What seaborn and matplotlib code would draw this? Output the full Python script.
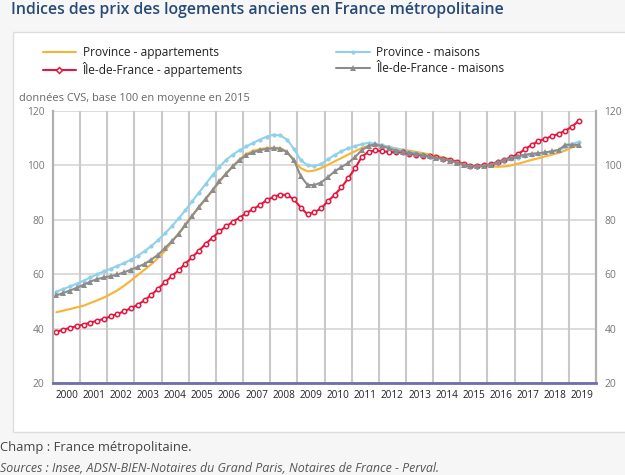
import numpy as np
import pandas as pd
import seaborn as sns
import matplotlib.pyplot as plt
from matplotlib.patches import Rectangle
from matplotlib.lines import Line2D

# Quarterly indices, 2000Q1 -> 2019Q2 (CVS, base 100 = 2015)
province_appart = [46.0, 46.6, 47.2, 47.8, 48.4, 49.4, 50.4, 51.4, 52.7, 54.1, 55.8, 57.7,
                   59.7, 61.7, 63.7, 66.0, 68.6, 71.8, 75.0, 78.3, 81.4, 84.5, 87.6, 90.7,
                   93.8, 97.0, 99.8, 102.3, 104.2, 105.4, 106.0, 106.4, 106.5, 106.4, 105.0, 101.5,
                   99.0, 97.8, 98.1, 99.0, 100.2, 101.5, 102.7, 104.0, 105.2, 106.4, 107.2, 107.6,
                   107.3, 106.9, 106.2, 105.8, 105.4, 105.0, 104.5, 104.0, 103.5, 102.9, 102.3, 101.5,
                   100.7, 100.0, 99.7, 99.6, 99.6, 99.5, 99.6, 100.0, 100.6, 101.3, 102.0, 102.6,
                   103.3, 103.9, 104.6, 105.5, 106.7, 107.3]
province_maisons = [53.6, 54.5, 55.5, 56.5, 57.6, 58.8, 60.0, 61.0, 62.0, 63.1, 64.1, 65.4,
                    66.8, 68.5, 70.4, 72.6, 75.0, 77.6, 80.5, 83.5, 86.8, 90.0, 93.2, 96.4,
                    99.4, 102.0, 104.0, 105.6, 107.0, 108.3, 109.5, 110.6, 111.3, 111.0, 109.5, 106.0,
                    102.0, 100.0, 99.8, 100.5, 102.3, 103.8, 105.2, 106.3, 107.1, 107.8, 108.3, 108.0,
                    107.4, 106.8, 106.0, 105.5, 105.0, 104.5, 104.0, 103.5, 103.0, 102.4, 101.9, 101.0,
                    100.3, 99.6, 99.5, 99.8, 100.2, 100.9, 101.6, 102.3, 102.9, 103.4, 103.8, 104.2,
                    104.7, 105.1, 105.7, 106.6, 107.9, 108.7]
idf_appart = [38.8, 39.6, 40.3, 40.9, 41.5, 42.2, 42.9, 43.6, 44.5, 45.4, 46.4, 47.5,
              48.8, 50.4, 52.4, 54.7, 57.0, 59.3, 61.4, 63.9, 66.2, 68.7, 71.2, 73.4,
              75.7, 77.6, 79.3, 80.8, 82.5, 84.0, 85.4, 87.3, 88.4, 89.3, 89.1, 87.5,
              84.5, 82.0, 82.8, 84.2, 86.8, 89.2, 91.9, 95.3, 98.9, 103.2, 105.0, 105.5,
              105.2, 104.9, 104.8, 104.8, 104.3, 104.0, 103.6, 103.3, 103.0, 102.4, 102.0, 101.2,
              100.5, 99.7, 99.9, 100.0, 100.4, 101.3, 102.1, 103.0, 104.1, 105.9, 107.5, 108.9,
              109.8, 110.7, 111.6, 112.8, 114.3, 116.5]
idf_maisons = [52.2, 53.1, 54.0, 55.0, 56.1, 57.3, 58.2, 58.8, 59.3, 59.9, 60.7, 61.7,
               62.7, 63.8, 65.4, 67.2, 69.6, 72.1, 74.8, 78.0, 81.5, 84.8, 87.8, 90.9,
               94.2, 97.0, 99.6, 102.0, 103.8, 104.8, 105.6, 106.1, 106.3, 106.1, 104.8, 102.0,
               96.0, 92.8, 92.8, 93.7, 95.7, 97.8, 99.4, 100.9, 103.1, 105.6, 107.2, 107.7,
               107.1, 106.3, 105.4, 105.0, 104.6, 104.2, 103.8, 103.3, 102.8, 102.3, 101.8, 101.0,
               100.3, 99.7, 99.6, 99.9, 100.3, 101.1, 102.0, 102.7, 103.4, 103.9, 104.3, 104.5,
               104.8, 105.2, 105.7, 107.6, 107.6, 107.5]

years = list(range(2000, 2020))
labels = ['Province - appartements', 'Province - maisons',
          'Île-de-France - appartements', 'Île-de-France - maisons']

n = len(province_appart)
quarter = 2000 + (np.arange(n) + 0.5) / 4

df = pd.DataFrame({'x': quarter,
                   labels[0]: province_appart,
                   labels[1]: province_maisons,
                   labels[2]: idf_appart,
                   labels[3]: idf_maisons})

sns.set_style('white')
plt.rcParams['font.family'] = ['Open Sans', 'DejaVu Sans']

W, H = 625, 475
fig = plt.figure(figsize=(W / 100, H / 100), dpi=100, facecolor='#f6f6f6')

# white panel behind the chart
fig.patches.append(Rectangle((13 / W, 1 - 432 / H), 1, (432 - 32) / H, transform=fig.transFigure,
                             facecolor='white', edgecolor='#dddddd', lw=1, zorder=-5))

ax = fig.add_axes([53 / W, 1 - 383 / H, 543 / W, 272 / H])
ax.set_zorder(2)
ax.set_facecolor('none')

styles = {
    labels[0]: dict(color='#f9b233', marker=None),
    labels[1]: dict(color='#8fd1ec', marker='o', markersize=3.0, markeredgewidth=0,
                    markerfacecolor='#8fd1ec'),
    labels[2]: dict(color='#e5173f', marker='o', markersize=3.2, markeredgewidth=1.1,
                    markerfacecolor='white', markeredgecolor='#e5173f'),
    labels[3]: dict(color='#8c8c8c', marker='^', markersize=4.0, markeredgewidth=0,
                    markerfacecolor='#8c8c8c'),
}
for lab in labels:
    sns.lineplot(data=df, x='x', y=lab, ax=ax, lw=1.5, legend=False, **styles[lab])

# year separators
ax.vlines(years[1:], 20, 120, colors='#c9c9c9', lw=1.5, zorder=1, snap=True)

ax.set_xlim(2000, 2020)
ax.set_ylim(20, 120)
ax.set_yticks(range(20, 121, 20))
ax.set_xticks([y + 0.5 for y in years])
ax.set_xticklabels([str(y) for y in years], fontsize=7.2, color='#222222')
ax.set_xticks(range(2000, 2021), minor=True)
ax.yaxis.grid(True, which='major', color='#dcdcdc', lw=1.4)
ax.set_axisbelow(True)
ax.tick_params(axis='x', which='major', length=0, pad=5)
ax.tick_params(axis='x', which='minor', length=14, width=1.5, color='#c9c9c9')
ax.tick_params(axis='y', length=0, labelsize=7.4, labelcolor='#777777', pad=6,
               labelright=True)
ax.set_xlabel('')
ax.set_ylabel('')
for s in ['left', 'right']:
    ax.spines[s].set_color('#b0b0b0')
    ax.spines[s].set_linewidth(1.6)
ax.spines['top'].set_visible(False)
ax.spines['bottom'].set_color('#6e6eae')
ax.spines['bottom'].set_linewidth(2)

# legend (red marker shown as a diamond, as in the source)
leg_styles = dict(styles)
leg_styles[labels[2]] = dict(styles[labels[2]], marker='D', markersize=3.0)
handles = [Line2D([], [], lw=1.5, **leg_styles[lab]) for lab in labels]
order = [0, 2, 1, 3]
fig.legend([handles[i] for i in order], [labels[i] for i in order], ncol=2,
           loc='upper left', bbox_to_anchor=(32 / W, 1 - 35 / H), frameon=False,
           fontsize=8.6, handlelength=2.8, columnspacing=7.8, labelspacing=0.3,
           handletextpad=0.55, labelcolor='#222222')

fig.text(11 / W, 1 - 10 / H, 'Indices des prix des logements anciens en France métropolitaine',
         fontsize=11.4, fontweight='semibold', color='#274a78', va='center')
fig.text(19 / W, 1 - 98 / H, 'données CVS, base 100 en moyenne en 2015',
         fontsize=7.9, color='#666666', va='center')
fig.text(0, 1 - 448 / H, 'Champ : France métropolitaine.',
         fontsize=9.4, color='#444444', va='center')
fig.text(0, 1 - 468 / H, 'Sources : Insee, ADSN-BIEN-Notaires du Grand Paris, Notaires de France - Perval.',
         fontsize=8.95, color='#555555', style='italic', va='center')

fig.savefig('out.png', dpi=100, facecolor=fig.get_facecolor())
